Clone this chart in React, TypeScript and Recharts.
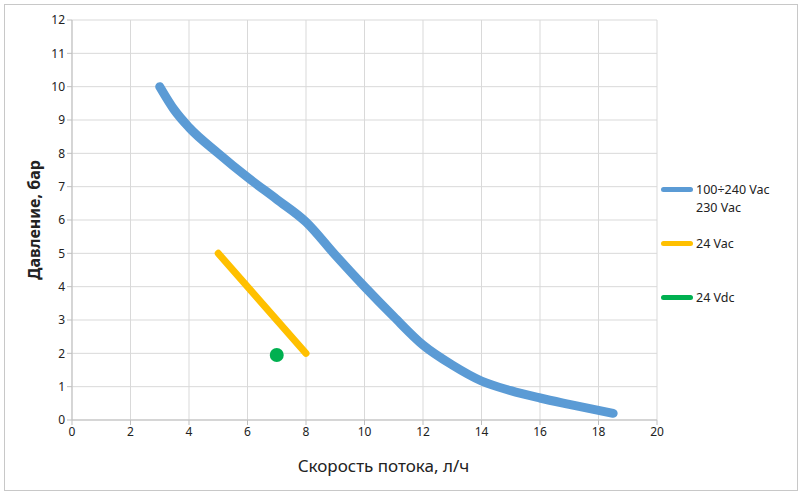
import React from "react";
import {
  ComposedChart,
  CartesianGrid,
  Line,
  Scatter,
  XAxis,
  YAxis,
  Legend,
} from "recharts";

// flow (l/h) vs pressure (bar)
const blueFlow = [3, 3.5, 4, 5, 6, 7, 8, 9, 10, 11, 12, 13, 14, 15, 16, 17, 18.5];
const bluePressure = [10, 9.3, 8.78, 8.0, 7.28, 6.62, 5.94, 4.95, 4.0, 3.1, 2.25, 1.65, 1.17, 0.88, 0.66, 0.47, 0.2];
const yellowFlow = [5, 8];
const yellowPressure = [5, 2];
const greenFlow = [7];
const greenPressure = [1.95];

const xTicks = [0, 2, 4, 6, 8, 10, 12, 14, 16, 18, 20];
const yTicks = [0, 1, 2, 3, 4, 5, 6, 7, 8, 9, 10, 11, 12];

const legendItems = [
  { label: ["100÷240 Vac", "230 Vac"], color: "#5b9bd5" },
  { label: ["24 Vac"], color: "#ffc000" },
  { label: ["24 Vdc"], color: "#00b050" },
];

const toPoints = (xs: number[], ys: number[]) =>
  xs.map((x, i) => ({ flow: x, pressure: ys[i] }));

const FONT = "'Noto Sans', sans-serif";

const LegendBox = () => (
  <div style={{ fontFamily: FONT, fontSize: 12.5, color: "#222" }}>
    {legendItems.map((it, i) => (
      <div
        key={i}
        style={{
          position: "absolute",
          left: 0,
          top: i * 54,
          display: "flex",
          alignItems: "flex-start",
        }}
      >
        <div
          style={{
            width: 32,
            height: 5,
            borderRadius: 3,
            background: it.color,
            marginTop: 6,
            marginRight: 3,
          }}
        />
        <div style={{ lineHeight: "18px" }}>
          {it.label.map((l) => (
            <div key={l}>{l}</div>
          ))}
        </div>
      </div>
    ))}
  </div>
);

export default function App() {
  return (
    <div style={{ position: "absolute", left: 0, top: 0, width: 800, height: 495, background: "#fff" }}>
      <div
        style={{
          position: "absolute",
          left: 4,
          top: 4,
          width: 792,
          height: 485,
          border: "1px solid #c8c8c8",
        }}
      />
      <ComposedChart
        width={800}
        height={495}
        margin={{ top: 20, right: 143, left: 0, bottom: 25 }}
      >
        <CartesianGrid stroke="#d9d9d9" strokeWidth={1} />
        <XAxis
          dataKey="flow"
          type="number"
          domain={[0, 20]}
          ticks={xTicks}
          height={50}
          stroke="#bfbfbf"
          tickSize={5}
          tick={{ fill: "#222", fontSize: 12, fontFamily: FONT }}
          label={{
            value: "Скорость потока, л/ч",
            position: "insideBottom",
            offset: -2,
            dx: 19,
            fill: "#222",
            fontSize: 17,
            fontFamily: FONT,
          }}
        />
        <YAxis
          dataKey="pressure"
          type="number"
          domain={[0, 12]}
          ticks={yTicks}
          width={72}
          stroke="#bfbfbf"
          tickSize={5}
          tick={{ fill: "#222", fontSize: 12, fontFamily: FONT }}
          label={{
            value: "Давление, бар",
            angle: -90,
            position: "insideLeft",
            offset: 34,
            dy: 60,
            fill: "#222",
            fontSize: 16,
            fontWeight: "bold",
            fontFamily: FONT,
          }}
        />
        <Line
          data={toPoints(blueFlow, bluePressure)}
          dataKey="pressure"
          type="monotone"
          stroke="#5b9bd5"
          strokeWidth={9}
          strokeLinecap="round"
          dot={false}
          isAnimationActive={false}
        />
        <Line
          data={toPoints(yellowFlow, yellowPressure)}
          dataKey="pressure"
          type="linear"
          stroke="#ffc000"
          strokeWidth={7}
          strokeLinecap="round"
          dot={false}
          isAnimationActive={false}
        />
        <Scatter
          data={toPoints(greenFlow, greenPressure)}
          dataKey="pressure"
          fill="#00b050"
          shape={(p: any) => <circle cx={p.cx} cy={p.cy} r={7} fill="#00b050" />}
          isAnimationActive={false}
        />
        <Legend
          content={() => <LegendBox />}
          wrapperStyle={{ position: "absolute", left: 661, top: 181, width: 130 }}
        />
      </ComposedChart>
    </div>
  );
}
